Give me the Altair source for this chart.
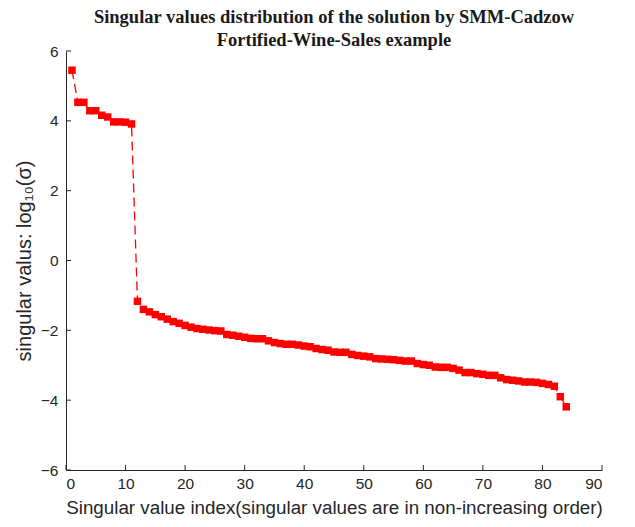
import altair as alt
import pandas as pd

# singular value index (1..84)
sv_index = list(range(1, 85))
# log10 of singular values
log_sv = [
    5.45, 4.53, 4.53, 4.29, 4.29, 4.16, 4.11, 3.97, 3.97, 3.96, 3.91,
    -1.17, -1.40, -1.47, -1.55, -1.61, -1.68, -1.75, -1.80, -1.86, -1.91,
    -1.95, -1.97, -1.99, -2.01, -2.02, -2.12, -2.14, -2.17, -2.20, -2.23,
    -2.24, -2.24, -2.30, -2.35, -2.38, -2.40, -2.40, -2.42, -2.45, -2.47,
    -2.52, -2.55, -2.57, -2.62, -2.63, -2.63, -2.69, -2.72, -2.74, -2.76,
    -2.81, -2.82, -2.83, -2.84, -2.86, -2.88, -2.88, -2.95, -2.98,
    -3.00, -3.05, -3.06, -3.06, -3.09, -3.14, -3.21, -3.21, -3.24, -3.26,
    -3.29, -3.29, -3.36, -3.41, -3.43, -3.45, -3.48, -3.48, -3.49, -3.52,
    -3.55, -3.60, -3.90, -4.19,
]
x_ticks = [0, 10, 20, 30, 40, 50, 60, 70, 80, 90]
y_ticks = [-6, -4, -2, 0, 2, 4, 6]

title_lines = [
    "Singular values distribution of the solution by SMM-Cadzow",
    "Fortified-Wine-Sales example",
]
x_title = "Singular value index(singular values are in non-increasing order)"
y_title = "singular valus: log\u2081\u2080(\u03c3)"

df = pd.DataFrame({"idx": sv_index, "val": log_sv})
xt = pd.DataFrame({"idx": x_ticks})
yt = pd.DataFrame({"val": y_ticks})

W, H = 536, 419
TXT = "#262626"
SANS = "Liberation Sans"

x_scale = alt.Scale(domain=[0, 90], nice=False, zero=False)
y_scale = alt.Scale(domain=[-6, 6], nice=False, zero=False)

x_axis = alt.Axis(
    values=x_ticks, ticks=False, grid=False, domainColor=TXT, domainWidth=1,
    labelFont=SANS, labelFontSize=15.5, labelColor=TXT, labelPadding=6,
    title=x_title, titleFont=SANS, titleFontSize=18.8, titleFontWeight="normal",
    titleColor=TXT, titlePadding=7,
)
y_axis = alt.Axis(
    values=y_ticks, ticks=False, grid=False, domainColor=TXT, domainWidth=1,
    labelFont=SANS, labelFontSize=15.5, labelColor=TXT, labelPadding=8,
    title=y_title, titleFont=SANS, titleFontSize=20, titleFontWeight="normal",
    titleColor=TXT, titlePadding=6,
)

X = alt.X("idx:Q", scale=x_scale, axis=x_axis)
Y = alt.Y("val:Q", scale=y_scale, axis=y_axis)

line = alt.Chart(df).mark_line(
    color="#ff0000", strokeDash=[9, 5], strokeWidth=1.3
).encode(x=X, y=Y)

points = alt.Chart(df).mark_square(
    color="#ff0000", size=56, opacity=1, filled=True
).encode(x=X, y=Y)

x_tick_marks = alt.Chart(xt).mark_rule(color=TXT, strokeWidth=1).encode(
    x=X,
    y=alt.value(H),
    y2=alt.value(H - 5),
)
y_tick_marks = alt.Chart(yt).mark_rule(color=TXT, strokeWidth=1).encode(
    y=Y,
    x=alt.value(0),
    x2=alt.value(5),
)

chart = alt.layer(line, x_tick_marks, y_tick_marks, points).properties(
    width=W,
    height=H,
    autosize=alt.AutoSizeParams(type="none"),
    padding={"left": 58, "top": 43, "right": 25, "bottom": 49},
    title=alt.TitleParams(
        text=title_lines, font="Liberation Serif", fontSize=18.5,
        fontWeight="bold", color="#1a1a1a", anchor="middle", lineHeight=23,
        offset=3, dy=8,
    ),
).configure(background="white", view=alt.ViewConfig(stroke=None))

chart.save("out.html", embed_options={"renderer": "svg", "actions": False})
